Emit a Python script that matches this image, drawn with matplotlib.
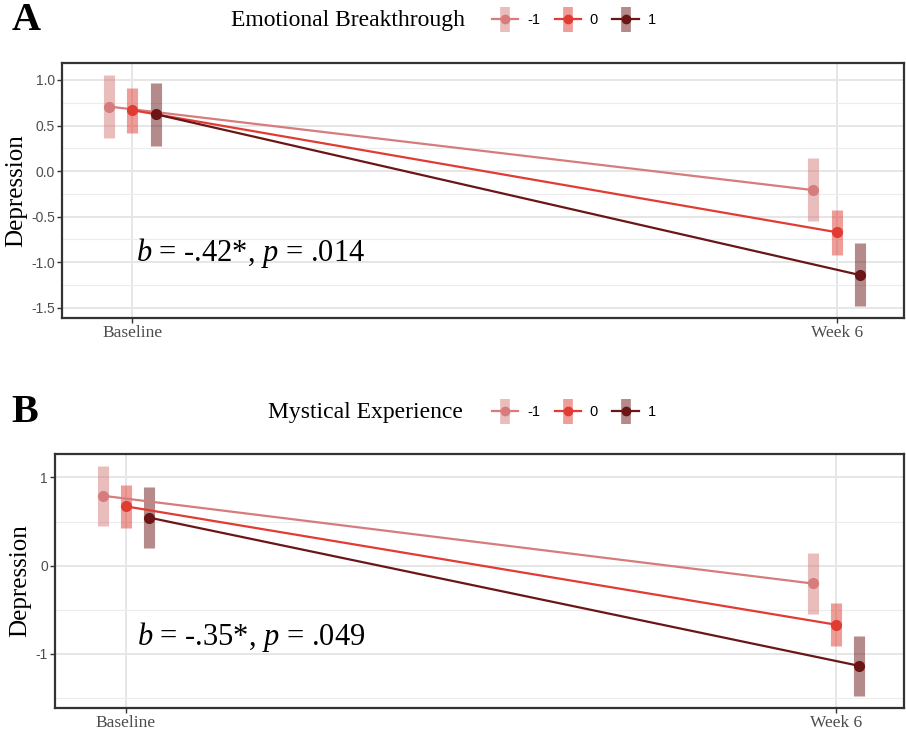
import numpy as np
import matplotlib
matplotlib.use("Agg")
import matplotlib.pyplot as plt
from matplotlib.lines import Line2D
from matplotlib.legend_handler import HandlerTuple
from matplotlib.ticker import MultipleLocator

plt.rcParams["mathtext.fontset"] = "custom"
plt.rcParams["mathtext.rm"] = "Liberation Serif"
plt.rcParams["mathtext.it"] = "Liberation Serif:italic"

# du lieu doc tu hinh
nhom = ["-1", "0", "1"]
thoi_diem = ["Baseline", "Week 6"]
mau = ["#D67C7C", "#E03C33", "#6B1616"]

# Panel A - Emotional Breakthrough
a_tb = [[0.708, -0.21], [0.668, -0.672], [0.624, -1.142]]
a_duoi = [[0.36, -0.554], [0.42, -0.92], [0.275, -1.487]]
a_tren = [[1.06, 0.14], [0.91, -0.43], [0.97, -0.79]]

# Panel B - Mystical Experience
b_tb = [[0.793, -0.204], [0.672, -0.672], [0.544, -1.14]]
b_duoi = [[0.445, -0.551], [0.427, -0.913], [0.2, -1.487]]
b_tren = [[1.136, 0.139], [0.91, -0.43], [0.891, -0.796]]

lech = [-0.033, 0.0, 0.033]
serif = "Liberation Serif"
sans = "Liberation Sans"


def ve_panel(ax, tb, duoi, tren, buoc, nho, ylim, fmt, chu, vt_chu):
    x0 = np.arange(1, len(thoi_diem) + 1)
    for i in range(len(nhom)):
        x = x0 + lech[i]
        ax.vlines(x, duoi[i], tren[i], colors=mau[i], alpha=0.5, lw=8, zorder=2)
        ax.plot(x, tb[i], color=mau[i], lw=1.6, zorder=3)
        ax.plot(x, tb[i], "o", color=mau[i], ms=7, zorder=4)
    ax.set_xlim(0.9, 2.096)
    ax.set_ylim(*ylim)
    ax.set_xticks(x0)
    ax.set_xticklabels(thoi_diem, fontfamily=serif, fontsize=12.5, color="#4d4d4d")
    ax.yaxis.set_major_locator(MultipleLocator(buoc))
    ax.yaxis.set_minor_locator(MultipleLocator(nho))
    ax.set_yticks(ax.get_yticks())
    ax.set_ylim(*ylim)
    ax.set_yticklabels([fmt % v for v in ax.get_yticks()], fontfamily=sans,
                       fontsize=10, color="#4d4d4d")
    ax.tick_params(axis="y", which="minor", length=0)
    ax.tick_params(axis="both", which="major", length=3.5, width=1, color="#333333", pad=1.5)
    ax.grid(True, which="major", color="#e6e6e6", lw=1.4, zorder=0)
    ax.grid(True, which="minor", axis="y", color="#ececec", lw=0.8, zorder=0)
    ax.set_axisbelow(True)
    for s in ax.spines.values():
        s.set_color("#333333")
        s.set_linewidth(1.6)
    ax.set_ylabel("Depression", fontfamily=serif, fontsize=18, labelpad=3)
    ax.text(vt_chu[0], vt_chu[1], chu, fontfamily=serif, fontsize=22,
            va="center", ha="left")


fig = plt.figure(figsize=(9.06, 7.32), dpi=100)
ax1 = fig.add_axes([0.0684, 0.5656, 0.9296, 0.3484])
ax2 = fig.add_axes([0.0607, 0.0328, 0.9373, 0.3470])

ve_panel(ax1, a_tb, a_duoi, a_tren, 0.5, 0.25, (-1.614, 1.187), "%.1f",
         r"$b$ = -.42*, $p$ = .014", (1.005, -0.9))
ve_panel(ax2, b_tb, b_duoi, b_tren, 1, 0.5, (-1.618, 1.267), "%d",
         r"$b$ = -.35*, $p$ = .049", (1.015, -0.81))

fig.text(0.013, 0.972, "A", fontfamily=serif, fontweight="bold", fontsize=29, va="center")
fig.text(0.013, 0.437, "B", fontfamily=serif, fontweight="bold", fontsize=29, va="center")


def chu_giai(tieu_de, x_td, y):
    fig.text(x_td, y, tieu_de, fontfamily=serif, fontsize=17, va="center", ha="left")
    handles = []
    for i in range(len(nhom)):
        bar = Line2D([], [], color=mau[i], marker="|", ms=18, mew=7, alpha=0.5, ls="none")
        dong = Line2D([], [], color=mau[i], marker="o", ms=6, lw=1.6)
        handles.append((bar, dong))
    fig.legend(handles, nhom, handler_map={tuple: HandlerTuple(ndivide=1)},
               loc="center left", bbox_to_anchor=(0.535, y), ncol=3, frameon=False,
               prop={"family": sans, "size": 10.5}, handlelength=1.8, handletextpad=0.6,
               columnspacing=1.0, borderpad=0.0)


chu_giai("Emotional Breakthrough", 0.255, 0.972)
chu_giai("Mystical Experience", 0.296, 0.437)

fig.savefig("out.png", dpi=100)
